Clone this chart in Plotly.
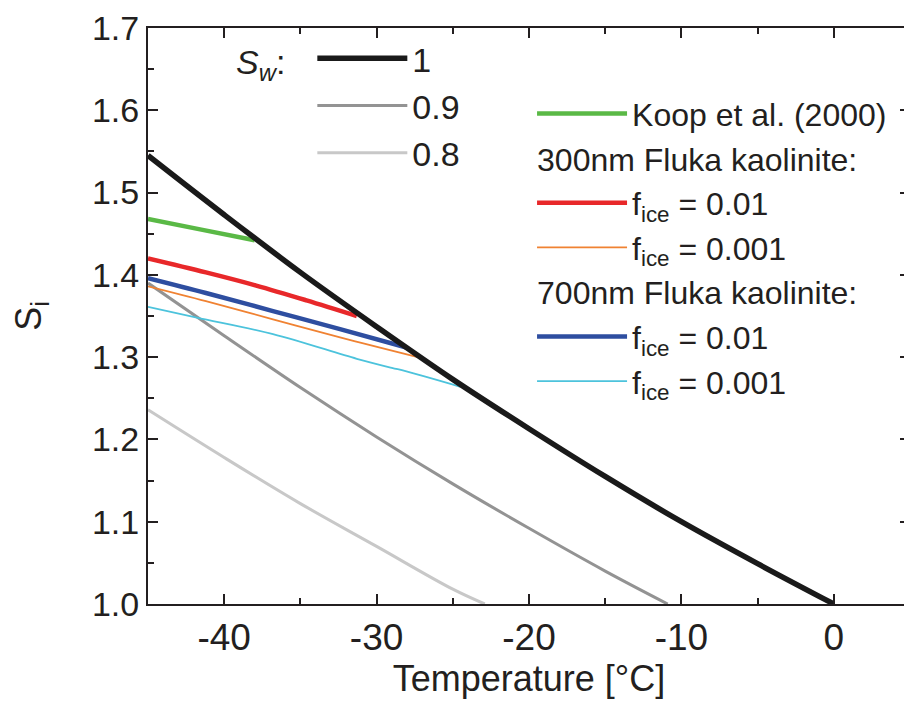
import plotly.graph_objects as go

# ---- data ----
T_sw1 = [-45, -40, -35, -30, -25, -20, -15, -10, -5, 0]
Si_sw1 = [1.545, 1.473, 1.403, 1.337, 1.273, 1.213, 1.155, 1.100, 1.049, 1.000]

T_sw09 = [-45, -40, -35, -30, -25, -20, -15, -10.9]
Si_sw09 = [1.390, 1.326, 1.263, 1.203, 1.146, 1.092, 1.040, 1.000]

T_sw08 = [-45, -40, -35, -30, -25, -22.9]
Si_sw08 = [1.236, 1.178, 1.122, 1.070, 1.018, 1.000]

T_koop = [-45, -41.5, -38.0]
Si_koop = [1.468, 1.455, 1.442]

T_300_01 = [-45, -41.2, -37.9, -34.6, -31.3]
Si_300_01 = [1.420, 1.403, 1.387, 1.369, 1.350]

T_300_001 = [-45, -41.2, -36.8, -32.4, -27.3]
Si_300_001 = [1.386, 1.368, 1.346, 1.324, 1.300]

T_700_01 = [-45, -41.2, -36.8, -32.4, -28.1]
Si_700_01 = [1.396, 1.378, 1.356, 1.334, 1.312]

T_700_001 = [-45, -41.8, -36.8, -31.3, -29.0, -28.1, -24.5]
Si_700_001 = [1.361, 1.348, 1.328, 1.298, 1.287, 1.283, 1.264]

x_ticks = [-40, -30, -20, -10, 0]
x_ticklabels = ["-40", "-30", "-20", "-10", "0"]
x_minor = [-45, -35, -25, -15, -5, 5]

FONT = "Liberation Sans, Arial, sans-serif"
INK = "#231f20"

fig = go.Figure()

fig.add_trace(go.Scatter(x=T_sw09, y=Si_sw09, mode="lines", name="0.9", legendrank=2,
                         line=dict(color="#939393", width=3, shape="spline"), legend="legend"))
fig.add_trace(go.Scatter(x=T_sw08, y=Si_sw08, mode="lines", name="0.8", legendrank=3,
                         line=dict(color="#c8c8c8", width=3, shape="spline"), legend="legend"))

fig.add_trace(go.Scatter(x=T_koop, y=Si_koop, mode="lines", name="Koop et al. (2000)",
                         line=dict(color="#5ab946", width=4.5, shape="spline"), legend="legend2",
                         legendgroup="koop"))
fig.add_trace(go.Scatter(x=T_300_01, y=Si_300_01, mode="lines", name="f<sub>ice</sub> = 0.01",
                         line=dict(color="#e8282a", width=4.5, shape="spline"), legend="legend2",
                         legendgroup="g300",
                         legendgrouptitle=dict(text="300nm Fluka kaolinite:",
                                               font=dict(size=32, color=INK, family=FONT))))
fig.add_trace(go.Scatter(x=T_300_001, y=Si_300_001, mode="lines", name="f<sub>ice</sub> = 0.001",
                         line=dict(color="#f08232", width=1.8, shape="spline"), legend="legend2",
                         legendgroup="g300"))
fig.add_trace(go.Scatter(x=T_700_01, y=Si_700_01, mode="lines", name="f<sub>ice</sub> = 0.01",
                         line=dict(color="#2e4ea0", width=4.5, shape="spline"), legend="legend2",
                         legendgroup="g700",
                         legendgrouptitle=dict(text="700nm Fluka kaolinite:",
                                               font=dict(size=32, color=INK, family=FONT))))
fig.add_trace(go.Scatter(x=T_700_001, y=Si_700_001, mode="lines", name="f<sub>ice</sub> = 0.001",
                         line=dict(color="#4cc3dc", width=1.8, shape="spline"), legend="legend2",
                         legendgroup="g700"))

# black Sw = 1 line drawn last (on top), listed first in its legend
fig.add_trace(go.Scatter(x=T_sw1, y=Si_sw1, mode="lines", name="1", legendrank=1,
                         line=dict(color="#1a1a1a", width=5.5, shape="spline"), legend="legend"))

axis_common = dict(
    showline=True, linewidth=2, linecolor=INK, mirror="allticks",
    ticks="inside", ticklen=10, tickwidth=2, tickcolor=INK,
    showgrid=False, zeroline=False, automargin=False,
)

# page body has an 8px margin, so the figure is 8px smaller than the window
fig.update_layout(
    width=904, height=696,
    margin=dict(l=140, r=2, t=20, b=100),
    paper_bgcolor="white", plot_bgcolor="white",
    font=dict(family=FONT, color=INK, size=33),
    xaxis=dict(range=[-45, 5], tickvals=x_ticks, ticktext=x_ticklabels,
               tickfont=dict(size=37, color=INK, family=FONT),
               minor=dict(tickvals=x_minor, ticks="inside", ticklen=6, tickwidth=2, tickcolor=INK),
               title=dict(text="Temperature [°C]", font=dict(size=36, color=INK, family=FONT), standoff=6),
               **axis_common),
    yaxis=dict(range=[1.0, 1.7], dtick=0.1, tickformat=".1f",
               tickfont=dict(size=34, color=INK, family=FONT),
               minor=dict(dtick=0.05, ticks="inside", ticklen=6, tickwidth=2, tickcolor=INK),
               title=dict(text="S<sub>i</sub>", font=dict(size=36, color=INK, family=FONT), standoff=44),
               **axis_common),
    legend=dict(x=0.113, y=0.997, xanchor="left", yanchor="top",
                bgcolor="rgba(0,0,0,0)", tracegroupgap=0, traceorder="normal",
                itemwidth=90,
                title=dict(text="<i>S</i><sub><i>w</i></sub>:  ", side="left",
                           font=dict(size=34, color=INK, family=FONT)),
                font=dict(size=34, color=INK, family=FONT)),
    legend2=dict(x=0.504, y=0.899, xanchor="left", yanchor="top",
                 bgcolor="rgba(0,0,0,0)", tracegroupgap=0, traceorder="grouped",
                 itemwidth=90,
                 font=dict(size=32, color=INK, family=FONT)),
    showlegend=True,
)

fig.write_html("out.html")
